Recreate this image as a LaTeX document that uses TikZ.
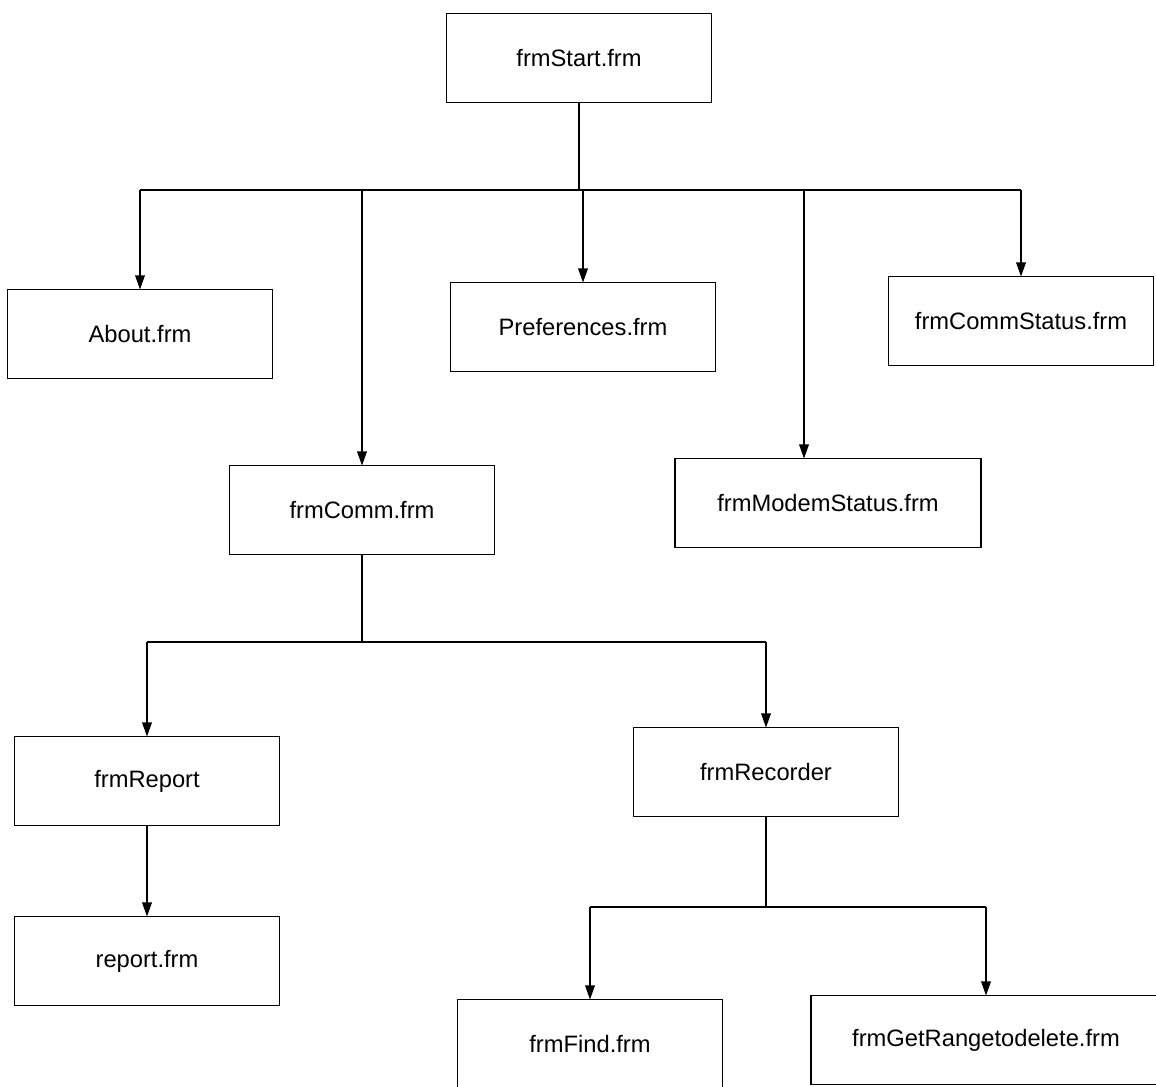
\documentclass[tikz,border=0pt]{standalone}
\usepackage{fontspec}
\setmainfont{Liberation Sans}
\usetikzlibrary{arrows.meta}

\tikzset{
  frmbox/.style={draw, line width=0.9pt, minimum width=5.3cm, minimum height=1.78cm,
    inner sep=0pt, outer sep=0pt, font=\fontsize{13.5}{16}\selectfont},
  link/.style={line width=0.8pt},
  >={Triangle[length=8pt,width=5.5pt]}
}

\begin{document}
\begin{tikzpicture}[x=0.02cm,y=-0.02cm]
\path[fill=white,use as bounding box] (0,0) rectangle (1156,1086);

\node[frmbox] (start) at (579,58) {frmStart.frm};
\node[frmbox] (about) at (140,334) {About.frm};
\node[frmbox] (prefs) at (583,327) {Preferences.frm};
\node[frmbox] (commstatus) at (1021,321) {frmCommStatus.frm};
\node[frmbox] (comm) at (362,510) {frmComm.frm};
\node[frmbox, minimum width=6.12cm] (modem) at (828,503) {frmModemStatus.frm};
\node[frmbox] (report) at (147,781) {frmReport};
\node[frmbox] (recorder) at (766,772) {frmRecorder};
\node[frmbox] (reportfrm) at (147,961) {report.frm};
\node[frmbox] (find) at (590,1044) {frmFind.frm};
\node[frmbox, minimum width=7cm] (getrange) at (986,1040) {frmGetRangetodelete.frm};

% top level bus
\coordinate (bus1) at (579,190);
\coordinate (b1about) at (140,190);
\coordinate (b1comm) at (362,190);
\coordinate (b1prefs) at (583,190);
\coordinate (b1modem) at (804,190);
\coordinate (b1cs) at (1021,190);

\draw[link] (start) -- (bus1);
\draw[link] (b1about) -- (b1cs);
\draw[link,->] (b1about) -- (about);
\draw[link,->] (b1comm) -- (comm);
\draw[link,->] (b1prefs) -- (prefs);
\draw[link,->] (b1modem) -- (b1modem |- modem.north);
\draw[link,->] (b1cs) -- (commstatus);

% frmComm bus
\coordinate (bus2) at (362,642);
\coordinate (b2report) at (147,642);
\coordinate (b2rec) at (766,642);

\draw[link] (comm) -- (bus2);
\draw[link] (b2report) -- (b2rec);
\draw[link,->] (b2report) -- (report);
\draw[link,->] (b2rec) -- (recorder);
\draw[link,->] (report) -- (reportfrm);

% frmRecorder bus
\coordinate (bus3) at (766,907);
\coordinate (b3find) at (590,907);
\coordinate (b3get) at (986,907);

\draw[link] (recorder) -- (bus3);
\draw[link] (b3find) -- (b3get);
\draw[link,->] (b3find) -- (find);
\draw[link,->] (b3get) -- (getrange);

\end{tikzpicture}
\end{document}
